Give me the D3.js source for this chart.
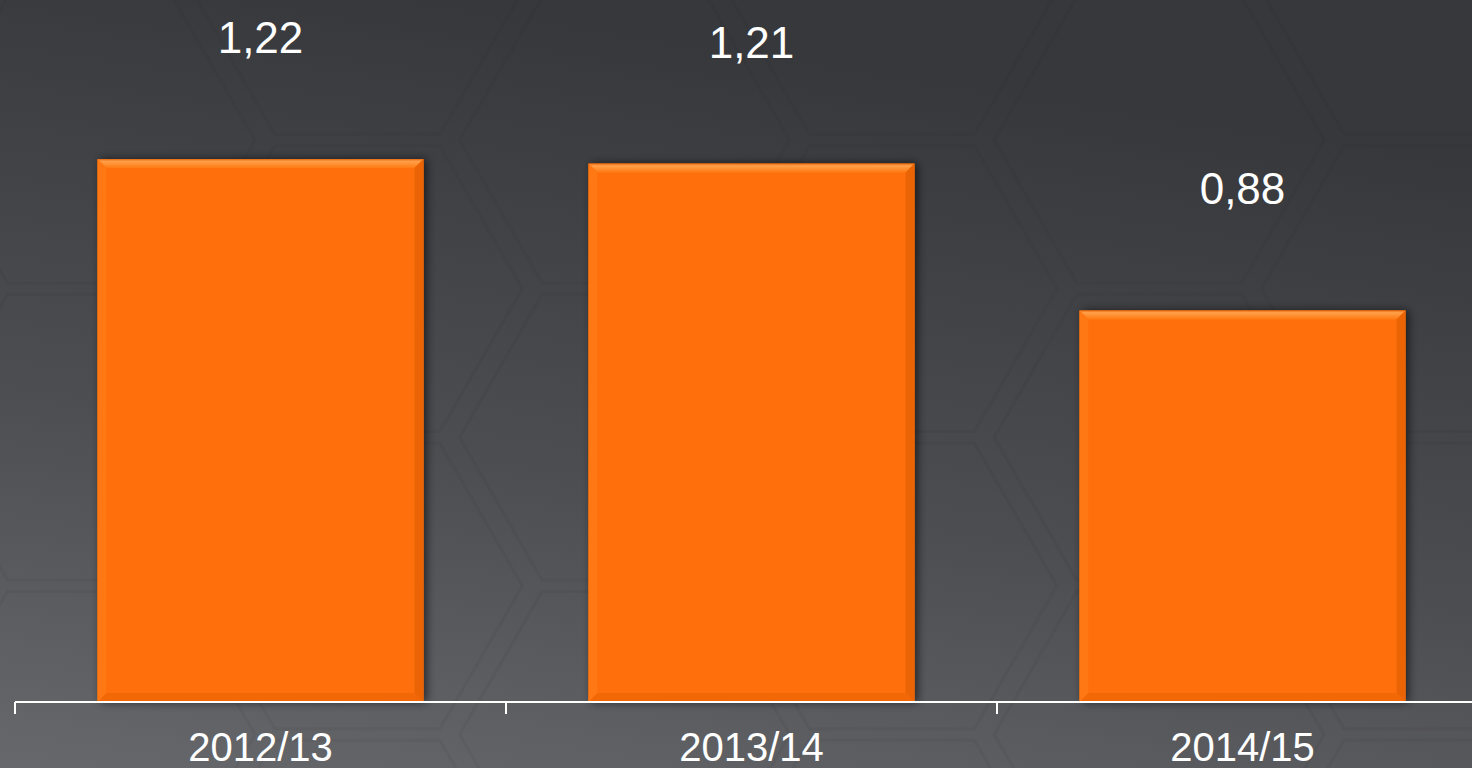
<!DOCTYPE html>
<html>
<head>
<meta charset="utf-8">
<script src="https://cdn.jsdelivr.net/npm/d3@7"></script>
<style>
  html, body { margin: 0; padding: 0; background: #47484c; }
  svg { display: block; }
</style>
</head>
<body>
<svg id="chart" width="1472" height="768"></svg>
<script>
var categories = ["2012/13", "2013/14", "2014/15"];
var values = [1.22, 1.21, 0.88];
var valueLabels = ["1,22", "1,21", "0,88"];

var width = 1472, height = 768;
var baseY = 702;

var svg = d3.select("#chart");
var defs = svg.append("defs");

// background gradient
var bg = defs.append("linearGradient").attr("id", "bg")
  .attr("x1", 0.3).attr("y1", 0).attr("x2", 0).attr("y2", 1);
bg.append("stop").attr("offset", "0%").attr("stop-color", "#37383c");
bg.append("stop").attr("offset", "55%").attr("stop-color", "#4d4e52");
bg.append("stop").attr("offset", "100%").attr("stop-color", "#67686c");

var shadow = defs.append("filter").attr("id", "shadow")
  .attr("x", "-10%").attr("y", "-10%").attr("width", "120%").attr("height", "120%");
shadow.append("feDropShadow").attr("dx", 3).attr("dy", 0)
  .attr("stdDeviation", 5).attr("flood-color", "#000").attr("flood-opacity", 0.6);

var topG = defs.append("linearGradient").attr("id", "bevelTop")
  .attr("x1", 0).attr("y1", 0).attr("x2", 0).attr("y2", 1);
topG.append("stop").attr("offset", "0%").attr("stop-color", "#e86a10");
topG.append("stop").attr("offset", "25%").attr("stop-color", "#ffa04a");
topG.append("stop").attr("offset", "100%").attr("stop-color", "#ff7a12");

svg.append("rect").attr("width", width).attr("height", height).attr("fill", "url(#bg)");

// faint honeycomb texture
var R = 165, hexH = Math.sqrt(3) * R;
var hexes = [];
for (var c = -1; c < 8; c++) {
  for (var r = -1; r < 4; r++) {
    hexes.push([c * 1.5 * R * 1.08 + 90, r * hexH * 1.04 + (c % 2 ? hexH * 0.52 : 0) + 140]);
  }
}
var hexLine = d3.line().curve(d3.curveLinearClosed);
svg.append("g").selectAll("path").data(hexes).join("path")
  .attr("d", function(d) {
    return hexLine(d3.range(6).map(function(i) {
      var a = Math.PI / 3 * i;
      return [d[0] + R * Math.cos(a), d[1] + R * Math.sin(a)];
    }));
  })
  .attr("fill", "none")
  .attr("stroke", "#202124")
  .attr("stroke-opacity", 0.06)
  .attr("stroke-width", 3)
  .attr("stroke-linejoin", "round");

var x = d3.scaleBand()
  .domain(categories)
  .range([15, 1488])
  .paddingInner(0.336)
  .paddingOuter(0.168);

var y = d3.scaleLinear()
  .domain([0, 1.4])
  .range([baseY, baseY - 1.4 * 445]);

var bars = svg.append("g").selectAll("g").data(values).join("g")
  .attr("transform", function(d, i) { return "translate(" + x(categories[i]) + "," + y(d) + ")"; });

var bw = x.bandwidth(), b = 9;

bars.append("rect")
  .attr("width", bw)
  .attr("height", function(d) { return baseY - y(d); })
  .attr("fill", "#ff6f08")
  .attr("filter", "url(#shadow)");

// bevel edges
bars.append("path")
  .attr("d", "M0,0 L" + bw + ",0 L" + (bw - b) + "," + b + " L" + b + "," + b + " Z")
  .attr("fill", "url(#bevelTop)");
bars.append("path")
  .attr("d", function(d) {
    var h = baseY - y(d);
    return "M0,0 L" + b + "," + b + " L" + b + "," + (h - b) + " L0," + h + " Z";
  })
  .attr("fill", "#ff7814");
bars.append("path")
  .attr("d", function(d) {
    var h = baseY - y(d);
    return "M" + bw + ",0 L" + bw + "," + h + " L" + (bw - b) + "," + (h - b) + " L" + (bw - b) + "," + b + " Z";
  })
  .attr("fill", "#ea6406");
bars.append("path")
  .attr("d", function(d) {
    var h = baseY - y(d);
    return "M0," + h + " L" + b + "," + (h - b) + " L" + (bw - b) + "," + (h - b) + " L" + bw + "," + h + " Z";
  })
  .attr("fill", "#f26806");

// value labels
svg.append("g").selectAll("text").data(values).join("text")
  .attr("x", function(d, i) { return x(categories[i]) + bw / 2; })
  .attr("y", function(d) { return y(d) - 106; })
  .attr("text-anchor", "middle")
  .attr("fill", "#ffffff")
  .style("font-family", "'Liberation Sans', Arial, sans-serif")
  .style("font-size", "44px")
  .text(function(d, i) { return valueLabels[i]; });

// x axis: line with ticks at category boundaries
var step = x.step();
var axis = svg.append("g").attr("transform", "translate(0," + baseY + ")");
axis.append("line")
  .attr("x1", 15).attr("x2", width)
  .attr("stroke", "#ffffff").attr("stroke-width", 2);
axis.selectAll(".tick").data(categories).join("line")
  .attr("class", "tick")
  .attr("x1", function(d) { return x(d) - step * x.paddingInner() / 2; })
  .attr("x2", function(d) { return x(d) - step * x.paddingInner() / 2; })
  .attr("y1", 0).attr("y2", 12)
  .attr("stroke", "#ffffff").attr("stroke-width", 2);

axis.selectAll(".cat").data(categories).join("text")
  .attr("class", "cat")
  .attr("x", function(d) { return x(d) + bw / 2; })
  .attr("y", 59)
  .attr("text-anchor", "middle")
  .attr("fill", "#ffffff")
  .style("font-family", "'Liberation Sans', Arial, sans-serif")
  .style("font-size", "40px")
  .text(function(d) { return d; });
</script>
</body>
</html>
